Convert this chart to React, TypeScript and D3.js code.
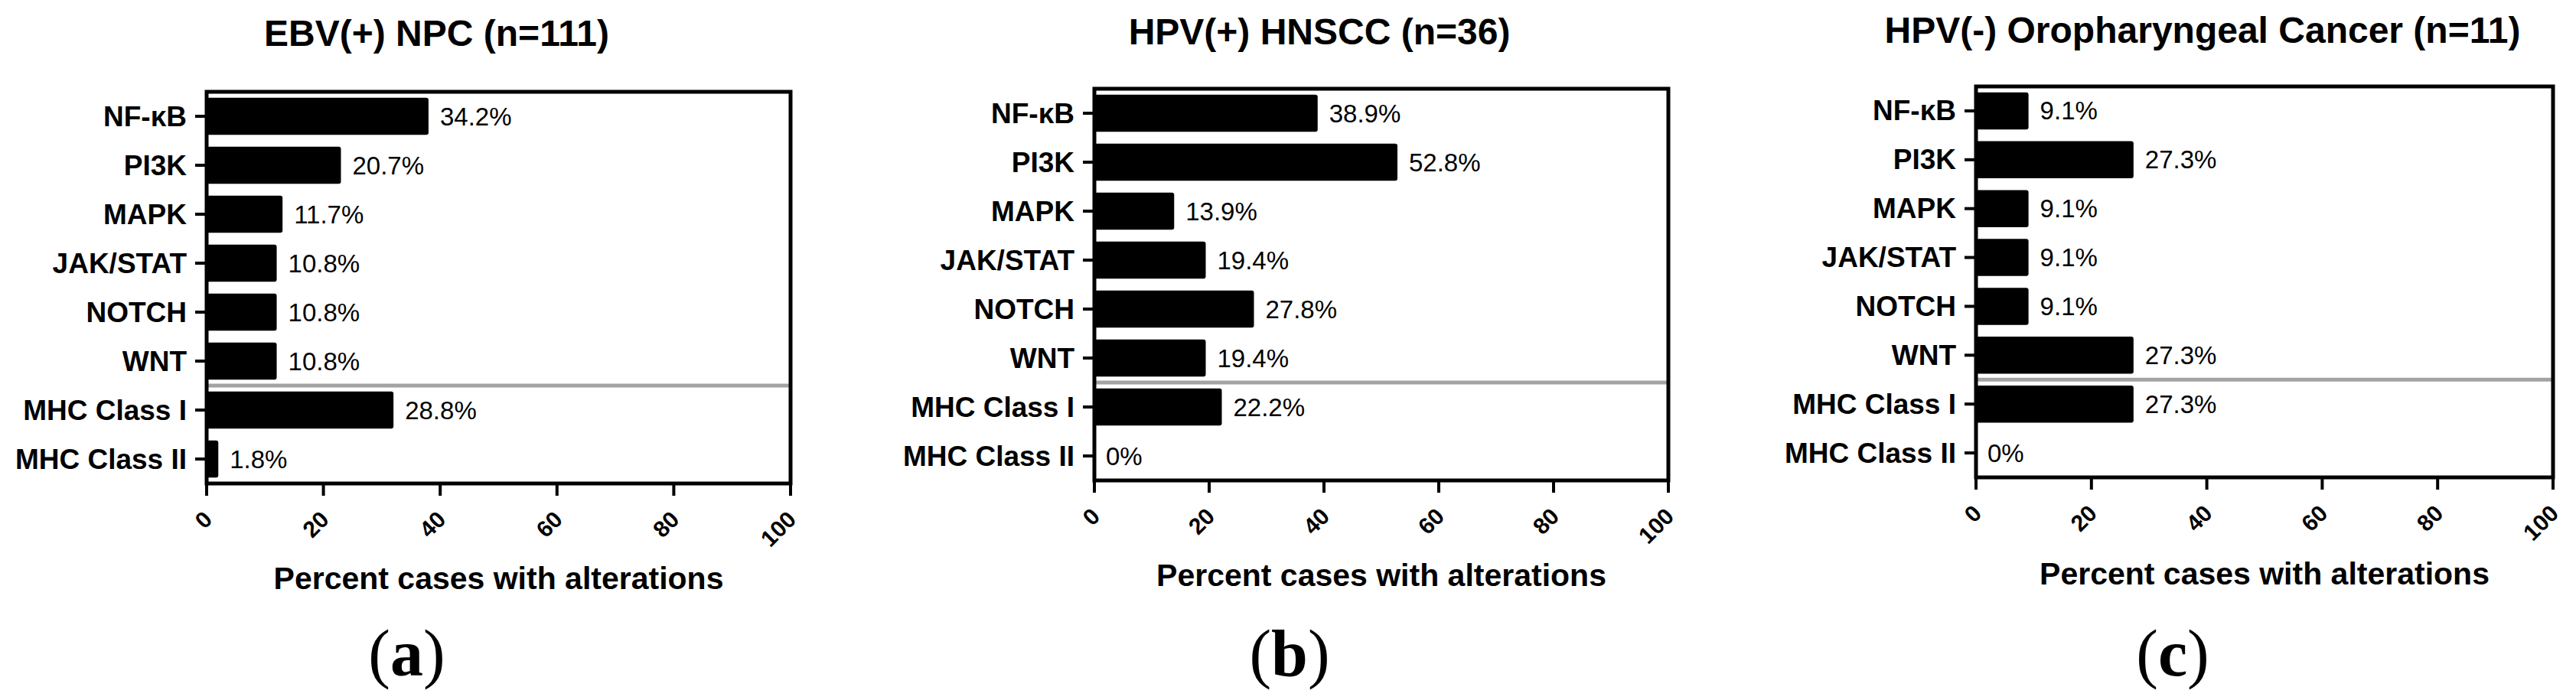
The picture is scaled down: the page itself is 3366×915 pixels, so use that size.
import { scaleLinear, scaleBand } from "d3";

// categories shared by the three panels
const categories = [
  "NF-κB",
  "PI3K",
  "MAPK",
  "JAK/STAT",
  "NOTCH",
  "WNT",
  "MHC Class I",
  "MHC Class II",
];

// panel a: bar lengths (they follow case counts), labels are the printed percentages
const ebvBars = [38, 23, 13, 12, 12, 12, 32, 2];
const ebvLabels = ["34.2%", "20.7%", "11.7%", "10.8%", "10.8%", "10.8%", "28.8%", "1.8%"];

const hpvPosBars = [38.9, 52.8, 13.9, 19.4, 27.8, 19.4, 22.2, 0];
const hpvPosLabels = ["38.9%", "52.8%", "13.9%", "19.4%", "27.8%", "19.4%", "22.2%", "0%"];

const hpvNegBars = [9.1, 27.3, 9.1, 9.1, 9.1, 27.3, 27.3, 0];
const hpvNegLabels = ["9.1%", "27.3%", "9.1%", "9.1%", "9.1%", "27.3%", "27.3%", "0%"];

const xTicks = [0, 20, 40, 60, 80, 100];

const titles = [
  "EBV(+) NPC (n=111)",
  "HPV(+) HNSCC (n=36)",
  "HPV(-) Oropharyngeal Cancer (n=11)",
];
const panelTags = ["a", "b", "c"];
const xTitle = "Percent cases with alterations";

const W = 3366;
const H = 915;
const SANS = "'Liberation Sans', Arial, sans-serif";
const SERIF = "'Liberation Serif', 'DejaVu Serif', serif";

// plot boxes for each panel
const boxes = [
  { left: 270, right: 1033, top: 120, bottom: 632, titleY: 60, xTitleY: 770 },
  { left: 1430, right: 2180, top: 116, bottom: 628, titleY: 58, xTitleY: 766 },
  { left: 2582, right: 3336, top: 113, bottom: 624, titleY: 56, xTitleY: 764 },
];

const Panel = (props: {
  idx: number;
  bars: number[];
  labels: string[];
}) => {
  const { idx, bars, labels } = props;
  const b = boxes[idx];
  const x = scaleLinear([0, 100], [b.left, b.right]);
  const y = scaleBand(categories, [b.top, b.bottom])
    .paddingInner(0.24)
    .paddingOuter(0.12);
  const cx = (b.left + b.right) / 2;
  // line separating pathway rows from MHC rows
  const sepY = (y("WNT") as number) + y.bandwidth() + (y.step() - y.bandwidth()) / 2;

  return (
    <g>
      <text
        x={cx - 81}
        y={b.titleY}
        textAnchor="middle"
        fontFamily={SANS}
        fontWeight="bold"
        fontSize={48}
      >
        {titles[idx]}
      </text>

      {/* bars */}
      {bars.map((v, i) => {
        const yy = y(categories[i]) as number;
        const w = x(v) - x(0);
        return (
          <g key={i}>
            {w > 0 && (
              <rect
                x={x(0)}
                y={yy}
                width={w}
                height={y.bandwidth()}
                rx={3}
                fill="#000"
              />
            )}
            <text
              x={x(v) + 15}
              y={yy + y.bandwidth() / 2}
              dominantBaseline="central"
              fontFamily={SANS}
              fontSize={33}
            >
              {labels[i]}
            </text>
          </g>
        );
      })}

      <line
        x1={b.left}
        x2={b.right}
        y1={sepY}
        y2={sepY}
        stroke="#a3a3a3"
        strokeWidth={5}
      />

      {/* frame */}
      <rect
        x={b.left}
        y={b.top}
        width={b.right - b.left}
        height={b.bottom - b.top}
        fill="none"
        stroke="#000"
        strokeWidth={5}
      />

      {/* y axis ticks and labels */}
      {categories.map((c) => {
        const yc = (y(c) as number) + y.bandwidth() / 2;
        return (
          <g key={c}>
            <line
              x1={b.left - 15}
              x2={b.left}
              y1={yc}
              y2={yc}
              stroke="#000"
              strokeWidth={4}
            />
            <text
              x={b.left - 26}
              y={yc}
              textAnchor="end"
              dominantBaseline="central"
              fontFamily={SANS}
              fontWeight="bold"
              fontSize={37}
            >
              {c}
            </text>
          </g>
        );
      })}

      {/* x axis ticks and rotated labels */}
      {xTicks.map((t) => (
        <g key={t}>
          <line
            x1={x(t)}
            x2={x(t)}
            y1={b.bottom}
            y2={b.bottom + 16}
            stroke="#000"
            strokeWidth={4}
          />
          <text
            transform={`translate(${x(t) + 9},${b.bottom + 49}) rotate(-45)`}
            textAnchor="end"
            fontFamily={SANS}
            fontWeight="bold"
            fontSize={30}
          >
            {t}
          </text>
        </g>
      ))}

      <text
        x={cx}
        y={b.xTitleY}
        textAnchor="middle"
        fontFamily={SANS}
        fontWeight="bold"
        fontSize={41}
      >
        {xTitle}
      </text>

      <text
        x={cx - 120}
        y={883}
        textAnchor="middle"
        fontFamily={SERIF}
        fontSize={86}
      >
        (<tspan fontWeight="bold">{panelTags[idx]}</tspan>)
      </text>
    </g>
  );
};

export default function App() {
  return (
    <div style={{ position: "absolute", left: 0, top: 0 }}>
      <svg width={W} height={H} style={{ display: "block", background: "#fff" }}>
        <Panel idx={0} bars={ebvBars} labels={ebvLabels} />
        <Panel idx={1} bars={hpvPosBars} labels={hpvPosLabels} />
        <Panel idx={2} bars={hpvNegBars} labels={hpvNegLabels} />
      </svg>
    </div>
  );
}
